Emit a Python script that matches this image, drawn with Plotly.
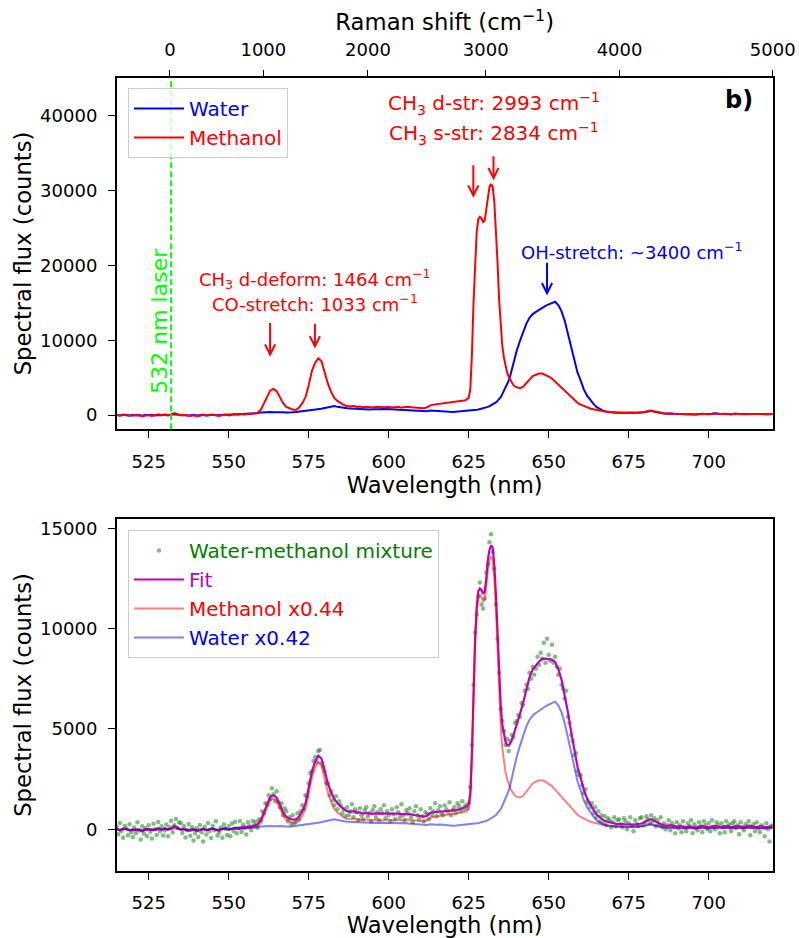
import numpy as np
import plotly.graph_objects as go

# ---------------- data ----------------
LASER_NM = 532.0

def raman_to_nm(shift):
    return 1e7 / (1e7 / LASER_NM - np.asarray(shift, dtype=float))

# wavelength grid of the reference spectra (nm)
wl_top = np.concatenate([np.arange(515, 623.5, 1.0),
                         np.arange(623.5, 640.5, 0.5),
                         np.arange(641, 720.5, 1.0)])

methanol = [
    # 515-623 (1 nm)
    50, -80, 20, 60, -40, -100, 30, -60, -150, -50,
    20, -120, 40, 110, -30, 60, 10, 80, 280, 150,
    -20, 40, -60, -120, -40, -140, -90, 30, -60, -20,
    80, -40, -130, 20, 90, -50, 60, 110, 40, 130,
    90, 180, 160, 260, 300, 700, 1500, 2500, 3300, 3500,
    3200, 2400, 1600, 1100, 900, 750, 700, 1000, 1600, 2400,
    4000, 5900, 7000, 7600, 7200, 5650, 4200, 3100, 2300, 1900,
    1600, 1350, 1200, 1150, 1250, 1100, 1150, 1050, 1100, 1050,
    1000, 1100, 1050, 1000, 1050, 1100, 1000, 1050, 1100, 1000,
    1050, 1100, 1050, 1000, 950, 950, 900, 1050, 1300, 1400,
    1450, 1500, 1550, 1650, 1700, 1700, 1750, 1800, 1900,
    # 623.5-640 (0.5 nm)
    1950, 2000, 2100, 2300, 3500, 8000, 15000, 21000, 24500, 26200,
    26500, 26300, 25800, 26000, 27500, 29500, 30500, 30900, 30500, 28500,
    25000, 20500, 15500, 11800, 9200, 7700, 6500, 5700, 5100, 4700,
    4300, 4000, 3800, 3700,
    # 641-720 (1 nm)
    3600, 3800, 4300, 4800, 5200, 5400, 5550, 5550, 5400, 5150,
    4900, 4500, 4100, 3700, 3300, 2900, 2400, 2000, 1650, 1400,
    1200, 1000, 880, 780, 680, 580, 500, 440, 400, 360,
    330, 300, 320, 280, 300, 260, 280, 310, 350, 420,
    560, 620, 500, 380, 300, 240, 200, 250, 180, 160,
    200, 150, 120, 170, 130, 90, 160, 200, 150, 120,
    180, 230, 170, 140, 200, 150, 120, 180, 210, 160,
    130, 170, 220, 160, 140, 190, 150, 120, 180, 140,
]

water = [
    # 515-623 (1 nm)
    20, -40, 60, -20, -80, 30, -50, 10, -90, 40,
    -30, 50, -60, 20, -10, 70, -40, 30, 120, 60,
    -20, 10, -70, -30, 40, -60, -20, 50, -40, 20,
    60, -30, -10, 40, 80, 10, 70, 100, 60, 120,
    110, 150, 170, 200, 260, 330, 370, 390, 400, 380,
    410, 400, 370, 340, 320, 380, 420, 470, 510, 550,
    600, 650, 700, 780, 860, 950, 1050, 1150, 1200, 1100,
    1000, 950, 900, 880, 850, 820, 800, 780, 800, 760,
    780, 750, 780, 800, 760, 740, 780, 750, 720, 760,
    740, 700, 680, 650, 620, 600, 560, 520, 600, 560,
    540, 580, 520, 480, 430, 420, 450, 480, 500,
    # 623.5-640 (0.5 nm)
    520, 550, 560, 580, 600, 620, 650, 700, 720, 760,
    800, 850, 900, 950, 1000, 1100, 1200, 1300, 1450, 1550,
    1700, 1900, 2100, 2400, 2800, 3200, 3600, 4000, 4600, 5300,
    6100, 7000, 7900, 8600,
    # 641-720 (1 nm)
    9900, 11000, 12200, 13000, 13500, 13800, 14100, 14400, 14600, 14800,
    15000, 15150, 14700, 13900, 12600, 10900, 9100, 7300, 5700, 4600,
    3400, 2600, 2000, 1500, 1050, 800, 600, 480, 400, 350,
    320, 300, 310, 270, 290, 250, 270, 300, 330, 400,
    520, 560, 460, 360, 280, 220, 190, 230, 170, 150,
    180, 140, 110, 160, 120, 80, 150, 190, 140, 110,
    170, 210, 160, 130, 190, 140, 110, 170, 200, 150,
    120, 160, 210, 150, 130, 180, 140, 110, 170, 130,
]

# measured water-methanol mixture, 515-720 nm every 0.5 nm
mixture = [
    120, -250, 310, -80, -420, 180, 40, -300, 250, -150,
    -380, 90, -200, 350, -60, -500, 150, -220, 60, -340,
    200, -120, -450, 280, 10, -280, 370, -90, 160, -310,
    -60, 240, -350, 120, 430, -140, 200, 520, 80, 350,
    300, -180, 150, -400, -40, 270, -320, 100, -550, -200,
    60, -380, 220, -150, -600, 130, -260, 310, -100, -430,
    180, -50, 400, -310, -150, 90, -420, 240, 20, -280,
    150, -350, 290, -80, 380, -200, 60, 420, -130, 230,
    100, -260, 350, 150, -40, 420, 200, 380, 80, 500,
    450, 900, 800, 1300, 1250, 1700, 1500, 2050, 1750, 1400,
    1900, 1350, 1100, 1300, 700, 1050, 900, 400, 600, 250,
    700, 300, 450, 800, 500, 900, 1200, 1000, 1700, 1650,
    2300, 2800, 2900, 3400, 3600, 3350, 3900, 3950, 3300, 3100,
    2900, 2300, 2300, 1700, 1900, 1450, 1200, 1650, 1000, 1400,
    1200, 800, 1000, 650, 1100, 700, 900, 1250, 600, 1000,
    850, 450, 1050, 700, 500, 950, 1100, 650, 800, 400,
    950, 1150, 600, 850, 450, 1000, 800, 1200, 550, 900,
    700, 400, 1000, 750, 500, 1100, 850, 600, 1250, 700,
    450, 950, 800, 1050, 600, 350, 900, 1150, 700, 500,
    1000, 650, 400, 850, 750, 500, 1050, 700, 900, 1300,
    650, 950, 1150, 800, 700, 1200, 1000, 850, 1350, 700,
    950, 1100, 800, 1300, 1150, 900, 1400, 1000, 1200, 1050,
    1300, 2100, 4200, 7200, 9800, 10700, 11600, 12300, 11200, 11000,
    11500, 12800, 13200, 14300, 14700, 13800, 13000, 11200, 9500, 7800,
    6000, 5400, 4900, 4200, 4500, 3900, 4400, 4700, 4600, 5300,
    5400, 5700, 5600, 6300, 6200, 6900, 7200, 7000, 7800, 7500,
    8100, 7700, 8000, 8600, 8200, 8800, 8500, 9300, 8300, 9500,
    8700, 8400, 9200, 8300, 8600, 8100, 7700, 8000, 7200, 7000,
    6500, 6900, 5600, 5300, 4700, 4400, 3700, 3800, 2900, 2700,
    2700, 2200, 1800, 2000, 1400, 1300, 1100, 1300, 800, 1100,
    600, 900, 400, 700, 300, 650, 200, 550, 450, 100,
    350, 600, 150, 450, 500, 250, 100, 550, 400, 0,
    300, 600, 200, -100, 450, 250, 150, 550, 600, 200,
    350, 650, 500, 300, 700, 400, 550, 150, 450, 250,
    600, 100, 300, 0, 200, 450, -50, 300, 150, -200,
    350, 50, 200, -150, 400, 100, -100, 300, 150, 450,
    -200, 250, 100, -50, 350, 150, -150, 400, 200, 0,
    300, -100, 450, 100, 0, 350, 200, -200, 300, 100,
    -150, 400, 150, 250, -100, 300, 400, 50, 200, -250,
    350, 100, -50, 250, 150, 400, -300, 100, 250, -100,
    350, 50, -150, 200, 100, -350, 300, 0, -600, 150,
    200,
]
mix_wl = 515.0 + 0.5 * np.arange(len(mixture))

methanol_scale = 0.44
water_scale = 0.42

wl_ticks = [525, 550, 575, 600, 625, 650, 675, 700]
raman_ticks = [0, 1000, 2000, 3000, 4000, 5000]
top_yticks = [0, 10000, 20000, 30000, 40000]
bottom_yticks = [0, 5000, 10000, 15000]

# band annotations: Raman shift (cm-1), arrow tip & tail (counts)
band_shifts = [1033, 1464, 2834, 2993, 3400]
arrow_tip = [7800, 8900, 29050, 31400, 16000]
arrow_tail = [12500, 12400, 33600, 34800, 20550]
arrow_color = ['#ff0000', '#ff0000', '#ff0000', '#ff0000', '#0000ff']

# ---------------- derived ----------------
wl_top = np.asarray(wl_top)
methanol = np.asarray(methanol, dtype=float)
water = np.asarray(water, dtype=float)
assert len(methanol) == len(wl_top) == len(water)
meth_scaled = methanol_scale * methanol
water_scaled = water_scale * water
fit = meth_scaled + water_scaled

FONT = 'DejaVu Sans'
RED = '#ff0000'
BLUE = '#0000ff'
GREEN = '#008000'
MAG = '#bf00bf'
LIME = '#00ff00'
TICK = 18
TITLE = 22.7

fig = go.Figure()

fig.add_trace(go.Scatter(x=wl_top, y=water, mode='lines', line=dict(color=BLUE, width=2),
                         name=f"<span style='color:{BLUE}'>Water</span>",
                         xaxis='x', yaxis='y', legend='legend'))
fig.add_trace(go.Scatter(x=wl_top, y=methanol, mode='lines', line=dict(color=RED, width=2),
                         name=f"<span style='color:{RED}'>Methanol</span>",
                         xaxis='x', yaxis='y', legend='legend'))
# empty trace so that the secondary (Raman shift) axis is drawn
fig.add_trace(go.Scatter(x=[None], y=[None], mode='lines', xaxis='x3', yaxis='y',
                         showlegend=False, hoverinfo='skip'))

fig.add_trace(go.Scatter(x=mix_wl, y=mixture, mode='markers',
                         marker=dict(color=GREEN, size=4.5, opacity=0.5, line=dict(width=0)),
                         name=f"<span style='color:{GREEN}'>Water-methanol mixture</span>",
                         xaxis='x2', yaxis='y2', legend='legend2'))
fig.add_trace(go.Scatter(x=wl_top, y=fit, mode='lines', line=dict(color=MAG, width=2.2),
                         name=f"<span style='color:{MAG}'>Fit</span>",
                         xaxis='x2', yaxis='y2', legend='legend2'))
fig.add_trace(go.Scatter(x=wl_top, y=meth_scaled, mode='lines',
                         line=dict(color='rgba(255,0,0,0.5)', width=2),
                         name=f"<span style='color:{RED}'>Methanol x{methanol_scale}</span>",
                         xaxis='x2', yaxis='y2', legend='legend2'))
fig.add_trace(go.Scatter(x=wl_top, y=water_scaled, mode='lines',
                         line=dict(color='rgba(0,0,255,0.5)', width=2),
                         name=f"<span style='color:{BLUE}'>Water x{water_scale}</span>",
                         xaxis='x2', yaxis='y2', legend='legend2'))

W, H = 799, 938
xdom = [116.7 / W, 772.7 / W]
ydom_top = [1 - 429.3 / H, 1 - 77.7 / H]
ydom_bot = [1 - 870.9 / H, 1 - 519.0 / H]

axis_common = dict(showline=True, linecolor='black', linewidth=1.5, mirror=True,
                   ticks='outside', ticklen=7, tickwidth=1.4, tickcolor='black',
                   showgrid=False, zeroline=False, tickfont=dict(size=TICK, color='black'),
                   automargin=False)

xa = dict(axis_common, ticklabelstandoff=8)
ya = dict(axis_common, ticklabelstandoff=7)

fig.update_layout(
    width=W, height=H, margin=dict(l=0, r=0, t=0, b=0),
    paper_bgcolor='white', plot_bgcolor='white',
    font=dict(family=FONT, size=TICK, color='black'),
    showlegend=True,
    xaxis=dict(domain=xdom, anchor='y', range=[515, 720], tickvals=wl_ticks,
               title=dict(text='Wavelength (nm)', font=dict(size=TITLE), standoff=3), **xa),
    yaxis=dict(domain=ydom_top, anchor='x', range=[-1900, 45100], tickvals=top_yticks,
               tickformat='d',
               title=dict(text='Spectral flux (counts)', font=dict(size=TITLE), standoff=2),
               **ya),
    xaxis3=dict(overlaying='x', anchor='y', side='top',
                range=[515, float(raman_to_nm(raman_ticks[-1]))],
                tickvals=[float(v) for v in raman_to_nm(raman_ticks)],
                ticktext=[str(t) for t in raman_ticks],
                ticks='outside', ticklen=7, tickwidth=1.4, tickcolor='black',
                showline=False, showgrid=False, zeroline=False,
                tickfont=dict(size=TICK, color='black'), automargin=False, ticklabelstandoff=7,
                title=dict(text='Raman shift (cm<sup>−1</sup>)', font=dict(size=TITLE), standoff=1)),
    xaxis2=dict(domain=xdom, anchor='y2', range=[515, 720], tickvals=wl_ticks,
                title=dict(text='Wavelength (nm)', font=dict(size=TITLE), standoff=3), **xa),
    yaxis2=dict(domain=ydom_bot, anchor='x2', range=[-2070, 15460], tickvals=bottom_yticks,
                tickformat='d',
                title=dict(text='Spectral flux (counts)', font=dict(size=TITLE), standoff=2),
                **ya),
    legend=dict(x=128 / W, y=1 - 88 / H, xanchor='left', yanchor='top', itemwidth=50,
                bgcolor='rgba(255,255,255,0.8)', bordercolor='#cccccc', borderwidth=1,
                font=dict(size=20, family=FONT)),
    legend2=dict(x=128 / W, y=1 - 530 / H, xanchor='left', yanchor='top', itemwidth=50,
                 bgcolor='rgba(255,255,255,0.8)', bordercolor='#cccccc', borderwidth=1,
                 font=dict(size=20, family=FONT)),
)

# laser line
fig.add_shape(type='line', xref='x', yref='y domain', x0=LASER_NM, x1=LASER_NM, y0=0, y1=1,
              line=dict(color=LIME, width=2, dash='6px,3px'))

anns = []
for s, tip, tail, c in zip(band_shifts, arrow_tip, arrow_tail, arrow_color):
    xp = float(raman_to_nm(s))
    anns.append(dict(x=xp, y=tip, ax=xp, ay=tail, xref='x', yref='y', axref='x', ayref='y',
                     text='', showarrow=True, arrowhead=5, arrowsize=1.0, arrowwidth=2,
                     arrowcolor=c))

def txt(x, y, s, size, color, **kw):
    d = dict(x=x, y=y, xref='x', yref='y', text=s, showarrow=False,
             font=dict(size=size, color=color, family=FONT), xanchor='center', yanchor='middle')
    d.update(kw)
    return d

x_dstr = float(raman_to_nm(2993))
x_ddef = float(raman_to_nm(1464))
anns += [
    txt(x_dstr, 41600, 'CH<sub>3</sub> d-str: 2993 cm<sup>−1</sup>', 20, RED),
    txt(x_dstr, 37700, 'CH<sub>3</sub> s-str: 2834 cm<sup>−1</sup>', 20, RED),
    txt(x_ddef, 18200, 'CH<sub>3</sub> d-deform: 1464 cm<sup>−1</sup>', 18, RED),
    txt(x_ddef, 15000, 'CO-stretch: 1033 cm<sup>−1</sup>', 18, RED),
    txt(675.8, 22000, 'OH-stretch: ~3400 cm<sup>−1</sup>', 18, BLUE),
    txt(528.4, 12550, '532 nm laser', 22, LIME, textangle=-90),
    dict(x=739 / W, y=1 - 100 / H, xref='paper', yref='paper', text='<b>b)</b>',
         showarrow=False, font=dict(size=24, color='black', family=FONT),
         xanchor='center', yanchor='middle'),
]
fig.update_layout(annotations=anns)

fig.write_html('out.html')
